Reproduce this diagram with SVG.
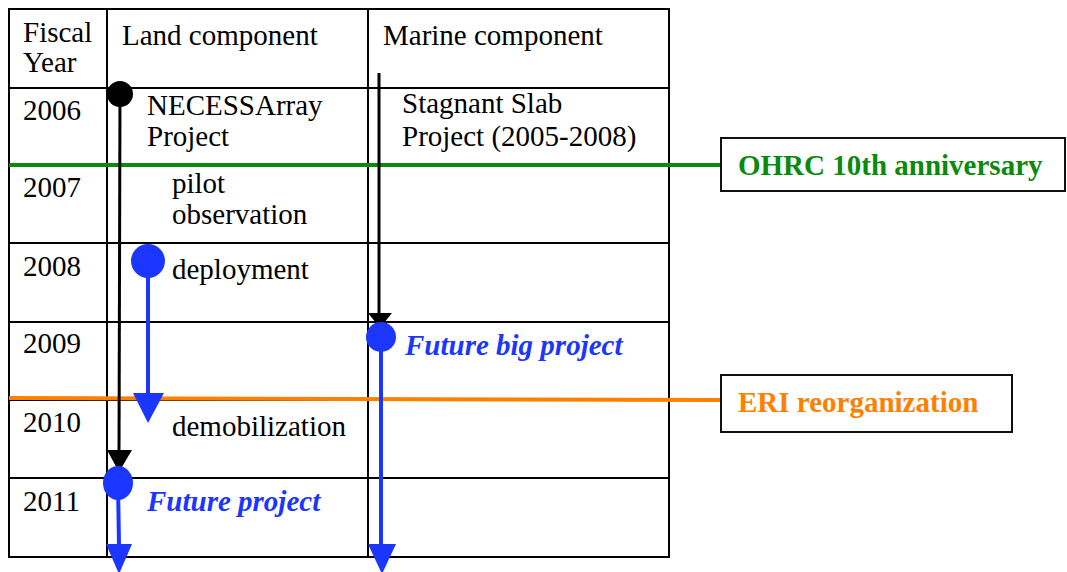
<svg xmlns="http://www.w3.org/2000/svg" width="1067" height="572" viewBox="0 0 1067 572">
<style>
.t{font-family:"Liberation Serif","Times New Roman",serif;font-size:29px;fill:#000}
.bi{font-family:"Liberation Serif","Times New Roman",serif;font-size:29px;font-weight:bold;font-style:italic;fill:#1a36ff}
.b{font-family:"Liberation Serif","Times New Roman",serif;font-size:29px;font-weight:bold}
.grid{stroke:#000;stroke-width:2;fill:none}
.blk{stroke:#000;stroke-width:3;fill:none}
.blu{stroke:#1a36ff;stroke-width:4;fill:none}
</style>
<rect width="1067" height="572" fill="#fff"/>
<g id="table">
<rect class="grid" x="9" y="9" width="660" height="548"/>
<line class="grid" x1="107" y1="9" x2="107" y2="557"/>
<line class="grid" x1="368" y1="9" x2="368" y2="557"/>
<line class="grid" x1="9" y1="88" x2="669" y2="88"/>
<line class="grid" x1="9" y1="165" x2="669" y2="165"/>
<line class="grid" x1="9" y1="243" x2="669" y2="243"/>
<line class="grid" x1="9" y1="322" x2="669" y2="322"/>
<line class="grid" x1="9" y1="400" x2="669" y2="400"/>
<line class="grid" x1="9" y1="478" x2="669" y2="478"/>
<text class="t" x="23" y="42">Fiscal</text>
<text class="t" x="23" y="72">Year</text>
<text class="t" x="122" y="45">Land component</text>
<text class="t" x="383" y="45">Marine component</text>
<text class="t" x="23" y="120">2006</text>
<text class="t" x="23" y="197">2007</text>
<text class="t" x="23" y="276">2008</text>
<text class="t" x="23" y="353">2009</text>
<text class="t" x="23" y="432">2010</text>
<text class="t" x="23" y="511">2011</text>
</g>
<g id="connectors">
<line x1="9" y1="165" x2="722" y2="165" stroke="#0a8a0a" stroke-width="4"/>
<line x1="9" y1="398" x2="722" y2="400" stroke="#ff8000" stroke-width="4"/>
<line class="blk" x1="120" y1="94" x2="119" y2="455"/>
<polygon points="107,450 132,450 119,472" fill="#000"/>
<line class="blk" x1="379" y1="73" x2="379" y2="316"/>
<polygon points="368,313 392,313 380,328" fill="#000"/>
<line class="blu" x1="148" y1="261" x2="148" y2="395"/>
<polygon points="133,393 164,393 148,423" fill="#1a36ff"/>
<line class="blu" x1="118" y1="483" x2="119" y2="546"/>
<polygon points="106,544 132,544 119,574" fill="#1a36ff"/>
<line class="blu" x1="381" y1="337" x2="381" y2="546"/>
<polygon points="368,544 396,544 382,574" fill="#1a36ff"/>
</g>
<g id="necessarray">
<circle cx="120" cy="94" r="13" fill="#000"/>
<text class="t" x="147" y="115">NECESSArray</text>
<text class="t" x="147" y="146">Project</text>
</g>
<g id="pilot">
<text class="t" x="172" y="193">pilot</text>
<text class="t" x="172" y="224">observation</text>
</g>
<g id="deployment">
<circle cx="148" cy="261" r="17" fill="#1a36ff"/>
<text class="t" x="172" y="279">deployment</text>
</g>
<g id="demobilization">
<text class="t" x="172" y="436">demobilization</text>
</g>
<g id="future-project">
<ellipse cx="118" cy="483" rx="15" ry="17" fill="#1a36ff"/>
<text class="bi" x="147" y="511">Future project</text>
</g>
<g id="stagnant-slab">
<text class="t" x="402" y="113">Stagnant Slab</text>
<text class="t" x="402" y="146">Project (2005-2008)</text>
</g>
<g id="future-big-project">
<circle cx="381" cy="337" r="15" fill="#1a36ff"/>
<text class="bi" x="405" y="355">Future big project</text>
</g>
<g id="ohrc">
<rect x="721" y="138" width="344" height="53" fill="#fff" stroke="#111" stroke-width="2"/>
<text class="b" x="738" y="175" fill="#0a8a0a">OHRC 10th anniversary</text>
</g>
<g id="eri">
<rect x="721" y="375" width="291" height="57" fill="#fff" stroke="#111" stroke-width="2"/>
<text class="b" x="738" y="412" fill="#ff8000">ERI reorganization</text>
</g>
</svg>
